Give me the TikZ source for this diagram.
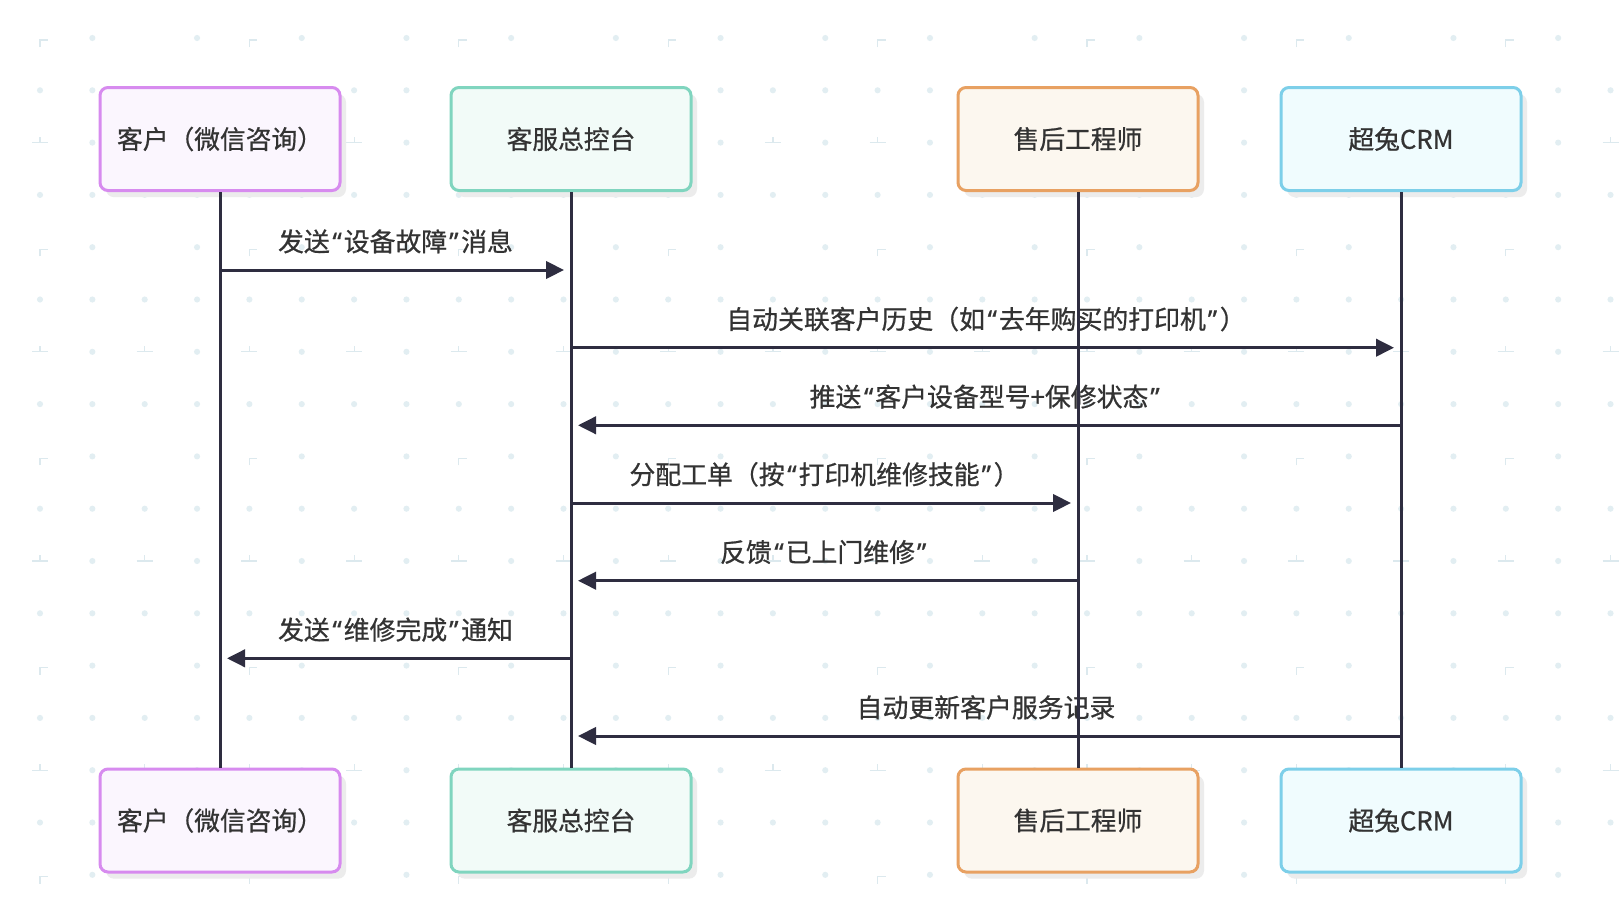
\documentclass[tikz,border=0pt]{standalone}
\usepackage{fontspec}
\setmainfont{Noto Sans CJK SC}[FakeBold=0.7]
\newfontfamily\latinq{Noto Sans}[FakeBold=0.7]
\newcommand\qo{{\kern2pt\latinq “\kern1.5pt}}
\newcommand\qc{{\kern1.5pt\latinq ”\kern2pt}}
\usetikzlibrary{arrows.meta,shadows}
\definecolor{txt}{HTML}{333333}
\definecolor{ln}{HTML}{2E2D40}
\definecolor{dotc}{HTML}{E2EEF2}
\definecolor{markc}{HTML}{DCE9EE}
\definecolor{shc}{HTML}{ECECEC}
\definecolor{pB}{HTML}{D78BEF}\definecolor{pF}{HTML}{FBF6FE}
\definecolor{gB}{HTML}{80D5BF}\definecolor{gF}{HTML}{F2FBF8}
\definecolor{oB}{HTML}{E8A162}\definecolor{oF}{HTML}{FCF7EF}
\definecolor{bB}{HTML}{7DCFE9}\definecolor{bF}{HTML}{F0FCFE}
\begin{document}
\begin{tikzpicture}[x=0.75pt,y=-0.75pt,
  actor/.style={draw, line width=2.25pt, rounded corners=6pt,
    minimum width=180pt, minimum height=77.25pt, inner sep=0pt,
    font=\fontsize{19.3}{23}\selectfont, text=txt,
    drop shadow={shadow xshift=4.5pt,shadow yshift=-5pt,fill=shc,opacity=1}},
  life/.style={draw=ln, line width=2.25pt},
  msg/.style={draw=ln, line width=2.25pt, shorten >=5.25pt,
    -{Triangle[length=13.5pt,width=13pt]}},
  lbl/.style={font=\fontsize{19.4}{23}\selectfont, text=txt, inner sep=0pt, yshift=21.5pt}]
\useasboundingbox (0,0) rectangle (1620,914);
\fill[white] (0,0) rectangle (1620,914);
% background pattern
\foreach \i in {0,...,30}{
 \foreach \j in {0,...,16}{
  \pgfmathtruncatemacro\ci{mod(\i,4)}
  \pgfmathtruncatemacro\rj{mod(\j,4)}
  \pgfmathsetmacro\xx{40+52.35*\i}
  \pgfmathsetmacro\yy{38+52.3*\j}
  \ifodd\rj
    \fill[dotc] (\xx,\yy) circle (2.3pt);
  \else
    \ifodd\ci
      \fill[dotc] (\xx,\yy) circle (2.3pt);
    \else
      \ifnum\rj=0
        \ifnum\ci=0
          \draw[markc, line width=0.9pt] (\xx,\yy+9) -- (\xx,\yy+2) -- (\xx+8,\yy+2);
        \fi
      \else
        \draw[markc, line width=0.9pt] (\xx-8,\yy) -- (\xx+8,\yy) (\xx,\yy) -- (\xx,\yy-6);
      \fi
    \fi
  \fi
 }}
% actors
\node[actor, draw=pB, fill=pF] (t1) at (220,139) {客户（微信咨询）};
\node[actor, draw=gB, fill=gF] (t2) at (571,139) {客服总控台};
\node[actor, draw=oB, fill=oF] (t3) at (1078,139) {售后工程师};
\node[actor, draw=bB, fill=bF] (t4) at (1401,139) {超兔CRM};
\node[actor, draw=pB, fill=pF] (b1) at (220,820.5) {客户（微信咨询）};
\node[actor, draw=gB, fill=gF] (b2) at (571,820.5) {客服总控台};
\node[actor, draw=oB, fill=oF] (b3) at (1078,820.5) {售后工程师};
\node[actor, draw=bB, fill=bF] (b4) at (1401,820.5) {超兔CRM};
% messages
\draw[msg] (t1 |- 0,270) -- node[lbl]{发送\qo 设备故障\qc 消息} (t2 |- 0,270);
\draw[msg] (t2 |- 0,347.7) -- node[lbl]{自动关联客户历史（如\qo 去年购买的打印机\qc ）} (t4 |- 0,347.7);
\draw[msg] (t4 |- 0,425.3) -- node[lbl]{推送\qo 客户设备型号+保修状态\qc} (t2 |- 0,425.3);
\draw[msg] (t2 |- 0,503) -- node[lbl]{分配工单（按\qo 打印机维修技能\qc ）} (t3 |- 0,503);
\draw[msg] (t3 |- 0,580.7) -- node[lbl]{反馈\qo 已上门维修\qc} (t2 |- 0,580.7);
\draw[msg] (t2 |- 0,658.3) -- node[lbl]{发送\qo 维修完成\qc 通知} (t1 |- 0,658.3);
\draw[msg] (t4 |- 0,736) -- node[lbl]{自动更新客户服务记录} (t2 |- 0,736);
% lifelines
\draw[life] (t1.south) -- (b1.north);
\draw[life] (t2.south) -- (b2.north);
\draw[life] (t3.south) -- (b3.north);
\draw[life] (t4.south) -- (b4.north);
\end{tikzpicture}
\end{document}
